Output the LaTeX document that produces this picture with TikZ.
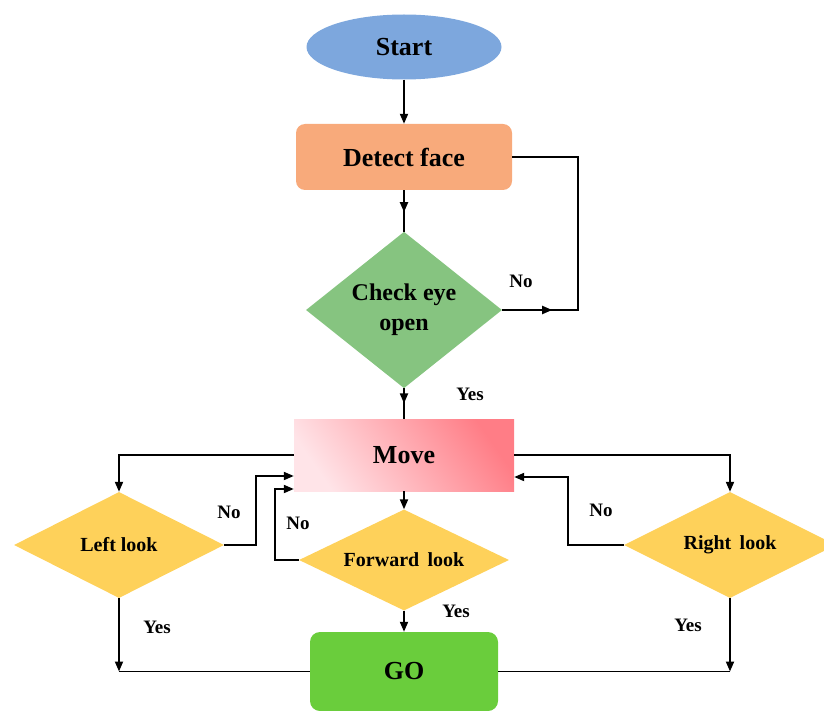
\documentclass[tikz,border=0pt]{standalone}
\usepackage{fontspec}
\setmainfont{Liberation Serif}
\usetikzlibrary{shapes.geometric,arrows.meta,decorations.markings}
\definecolor{startblue}{RGB}{125,167,221}
\definecolor{detectorange}{RGB}{248,170,123}
\definecolor{checkgreen}{RGB}{134,196,128}
\definecolor{movelight}{RGB}{255,228,232}
\definecolor{movedark}{RGB}{255,125,134}
\definecolor{lookyellow}{RGB}{254,209,90}
\definecolor{gogreen}{RGB}{106,205,60}
\tikzset{
  big/.style={font=\fontsize{26}{30}\selectfont\bfseries},
  small/.style={font=\fontsize{20}{23}\selectfont\bfseries},
  lab/.style={font=\fontsize{19}{22}\selectfont\bfseries, inner sep=0pt},
  dia/.style={diamond, aspect=2.2, draw=none, fill=lookyellow, inner sep=0pt, small},
  line/.style={line width=1.9pt, black},
  arr/.style={line, -{Triangle[length=10pt,width=8pt]}},
  midarrow/.style={line, postaction={decorate}, decoration={markings,
      mark=at position #1 with {\arrow{Triangle[length=10pt,width=8pt]}}}}
}
\begin{document}
\begin{tikzpicture}[x=1pt,y=-1pt]
\useasboundingbox (0,0) rectangle (824,711);
\node[ellipse, fill=startblue, minimum width=195pt, minimum height=65pt, inner sep=0pt, big] (start) at (404,47) {Start};
\node[rectangle, rounded corners=9pt, fill=detectorange, minimum width=216pt, minimum height=66pt, big] (detect) at (404,157) {Detect face};
\node[diamond, fill=checkgreen, minimum width=196pt, minimum height=154pt, inner sep=0pt, align=center, font=\fontsize{24}{30}\selectfont\bfseries] (check) at (404,310) {Check eye\\open};
\node[rectangle, left color=movelight, right color=movedark, shading angle=125, minimum width=220pt, minimum height=72pt, big] (move) at (404,455) {Move};
\node[dia, minimum width=210pt, minimum height=106pt] (left) at (119,545) {Left look};
\node[dia, minimum width=210pt, minimum height=101pt] (fwd) at (404,560) {Forward\, look};
\node[dia, minimum width=212pt, minimum height=106pt] (right) at (730,545) {Right\, look};
\node[rectangle, rounded corners=10pt, fill=gogreen, minimum width=188pt, minimum height=79pt, big] (go) at (404,671.5) {GO};

\node[lab] (l1) at (521,281) {No};
\node[lab] (l2) at (470,394) {Yes};
\node[lab] (l3) at (229,512) {No};
\node[lab] (l4) at (298,523) {No};
\node[lab] (l5) at (456,611) {Yes};
\node[lab] (l6) at (601,510) {No};
\node[lab] (l7) at (157,627) {Yes};
\node[lab] (l8) at (688,625) {Yes};

\draw[arr] (start) -- (detect);
\draw[midarrow=22pt] (detect) -- (check);
\draw[midarrow=50pt] (check.east) -- ++(76,0) |- (detect.east);
\draw[midarrow=15pt] (check) -- (move);
\draw[arr] (move.west) -| (left.north);
\draw[arr] (move.east) -| (right.north);
\draw[arr] (move) -- (fwd);
\draw[arr] (left.east) -- ++(32,0) |- ([yshift=-21pt]move.west);
\draw[arr] (fwd.west) -- ++(-24,0) |- ([yshift=-34pt]move.west);
\draw[arr] (right.west) -- ++(-56,0) |- ([yshift=-22pt]move.east);
\draw[arr] (fwd) -- (go);
\coordinate (lc) at (left.south |- go.west);
\coordinate (rc) at (right.south |- go.east);
\draw[arr] (left.south) -- (lc);
\draw[line] (go.west) -- (lc);
\draw[arr] (right.south) -- (rc);
\draw[line] (go.east) -- (rc);
\end{tikzpicture}
\end{document}
